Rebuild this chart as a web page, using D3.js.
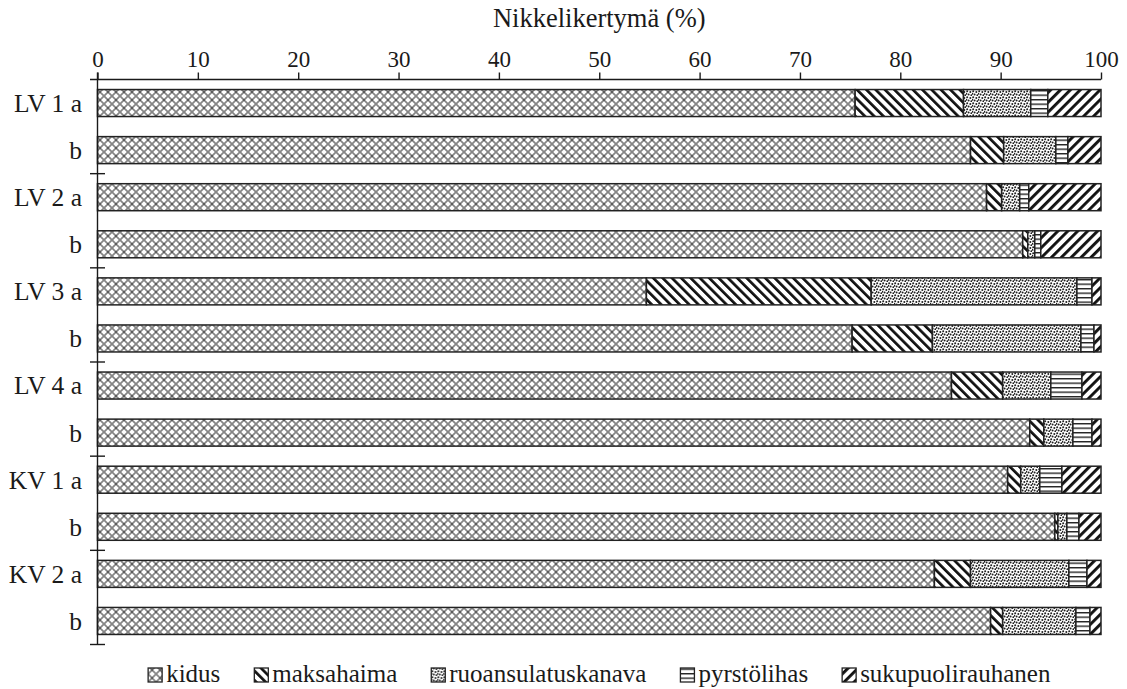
<!DOCTYPE html>
<html>
<head>
<meta charset="utf-8">
<script src="https://cdn.jsdelivr.net/npm/d3@7"></script>
<style>
  html, body { margin: 0; padding: 0; background: #fff; }
  svg { display: block; }
  svg text { font-family: "Liberation Serif", "Times New Roman", Times, serif; }
</style>
</head>
<body>
<svg id="chart" width="1127" height="689"></svg>
<script>
// Sites (groups) and replicate fish within each site
const groups = ["LV 1", "LV 2", "LV 3", "LV 4", "KV 1", "KV 2"];
const replicates = ["a", "b"];

// Tissues, in stacking order
const tissues = ["kidus", "maksahaima", "ruoansulatuskanava", "pyrstölihas", "sukupuolirauhanen"];

// Share of accumulated nickel (%) per tissue, one entry per bar (LV 1 a, LV 1 b, LV 2 a, ...)
const kidus              = [75.5, 87.0, 88.6, 92.2, 54.7, 75.2, 85.1, 92.9, 90.7, 95.4, 83.4, 89.0];
const maksahaima         = [10.8,  3.3,  1.5,  0.5, 22.4,  8.0,  5.1,  1.4,  1.3,  0.3,  3.6,  1.2];
const ruoansulatuskanava = [ 6.7,  5.2,  1.8,  0.7, 20.5, 14.8,  4.8,  2.9,  1.9,  0.9,  9.8,  7.3];
const pyrstolihas        = [ 1.7,  1.2,  0.9,  0.6,  1.5,  1.3,  3.1,  1.9,  2.2,  1.2,  1.8,  1.4];
const sukupuolirauhanen  = [ 5.3,  3.3,  7.2,  6.0,  0.9,  0.7,  1.9,  0.9,  3.9,  2.2,  1.4,  1.1];

const xTicks = [0, 10, 20, 30, 40, 50, 60, 70, 80, 90, 100];
const xTitle = "Nikkelikertymä (%)";

// Build rows for the stack
const seriesValues = [kidus, maksahaima, ruoansulatuskanava, pyrstolihas, sukupuolirauhanen];
const rows = [];
groups.forEach((g, gi) => {
  replicates.forEach((r, ri) => {
    const idx = gi * replicates.length + ri;
    const row = { id: g + " " + r, label: ri === 0 ? g + " " + r : r };
    tissues.forEach((t, ti) => { row[t] = seriesValues[ti][idx]; });
    rows.push(row);
  });
});

const FONT = "Liberation Serif, Times New Roman, Times, serif";
const INK = "#1a1a1a";

const svg = d3.select("#chart");
const plotLeft = 97.5, plotRight = 1101, plotTop = 79.5, plotBottom = 644.5;

const x = d3.scaleLinear().domain([0, 100]).range([plotLeft, plotRight]);
const y = d3.scaleBand().domain(rows.map(d => d.id)).range([plotTop, plotBottom])
  .paddingInner(0.4265).paddingOuter(0.2133);

// ---- Fill patterns ----
const defs = svg.append("defs");

// kidus: grey diagonal lattice
const pK = defs.append("pattern").attr("id", "p-kidus").attr("patternUnits", "userSpaceOnUse")
  .attr("width", 8).attr("height", 8);
pK.append("rect").attr("width", 8).attr("height", 8).attr("fill", "#fff");
pK.append("path").attr("d", "M0,0L8,8M8,0L0,8").attr("stroke", "#868686").attr("stroke-width", 1.8);
pK.append("circle").attr("cx", 4).attr("cy", 4).attr("r", 0.9).attr("fill", "#4a4a4a");

// maksahaima: back diagonal stripes
const pM = defs.append("pattern").attr("id", "p-maksa").attr("patternUnits", "userSpaceOnUse")
  .attr("width", 6.6).attr("height", 10).attr("patternTransform", "rotate(-45)");
pM.append("rect").attr("width", 6.6).attr("height", 10).attr("fill", "#fff");
pM.append("rect").attr("width", 2.7).attr("height", 10).attr("fill", "#111");

// ruoansulatuskanava: dense speckle
const pR = defs.append("pattern").attr("id", "p-ruoan").attr("patternUnits", "userSpaceOnUse")
  .attr("width", 6).attr("height", 6);
pR.append("rect").attr("width", 6).attr("height", 6).attr("fill", "#fff");
[[1.2, 1.3], [4.3, 2.0], [2.6, 4.4], [5.4, 5.2], [0.3, 3.8]].forEach(([cx, cy]) =>
  pR.append("circle").attr("cx", cx).attr("cy", cy).attr("r", 1.0).attr("fill", "#222"));

// pyrstölihas: horizontal lines
const pP = defs.append("pattern").attr("id", "p-pyrsto").attr("patternUnits", "userSpaceOnUse")
  .attr("width", 6).attr("height", 4.5);
pP.append("rect").attr("width", 6).attr("height", 4.5).attr("fill", "#fff");
pP.append("rect").attr("y", 0).attr("width", 6).attr("height", 1.4).attr("fill", "#222");

// sukupuolirauhanen: forward diagonal stripes
const pS = defs.append("pattern").attr("id", "p-suku").attr("patternUnits", "userSpaceOnUse")
  .attr("width", 7).attr("height", 10).attr("patternTransform", "rotate(45)");
pS.append("rect").attr("width", 7).attr("height", 10).attr("fill", "#fff");
pS.append("rect").attr("width", 2.9).attr("height", 10).attr("fill", "#111");

const fillFor = {
  "kidus": "url(#p-kidus)",
  "maksahaima": "url(#p-maksa)",
  "ruoansulatuskanava": "url(#p-ruoan)",
  "pyrstölihas": "url(#p-pyrsto)",
  "sukupuolirauhanen": "url(#p-suku)"
};

// ---- Stacked bars ----
const stack = d3.stack().keys(tissues)(rows);
svg.append("g").selectAll("g").data(stack).join("g")
  .attr("fill", d => fillFor[d.key])
  .selectAll("rect").data(d => d).join("rect")
  .attr("x", d => x(d[0]))
  .attr("y", d => y(d.data.id))
  .attr("width", d => x(d[1]) - x(d[0]))
  .attr("height", y.bandwidth())
  .attr("stroke", "#222").attr("stroke-width", 1.5);

// ---- Top axis ----
const xAxis = d3.axisTop(x).tickValues(xTicks).tickSize(7).tickSizeOuter(0).tickPadding(6);
const gx = svg.append("g").attr("transform", `translate(0,${plotTop})`).call(xAxis)
  .attr("font-family", FONT);
gx.select(".domain").remove();
gx.selectAll(".tick line").attr("stroke", INK).attr("stroke-width", 1.4);
gx.selectAll(".tick text").attr("font-size", 23).attr("fill", INK).attr("font-family", FONT);
svg.append("line").attr("x1", 90).attr("x2", plotRight).attr("y1", plotTop).attr("y2", plotTop)
  .attr("stroke", INK).attr("stroke-width", 1.4);

// Axis title
svg.append("text").attr("x", (plotLeft + plotRight) / 2).attr("y", 27)
  .attr("text-anchor", "middle").attr("font-family", FONT).attr("font-size", 26.5)
  .attr("fill", INK).text(xTitle);

// ---- Left axis with group separators ----
svg.append("line").attr("x1", plotLeft).attr("x2", plotLeft).attr("y1", plotTop - 7).attr("y2", plotBottom)
  .attr("stroke", INK).attr("stroke-width", 1.4);
const half = (y.step() - y.bandwidth()) / 2;
const boundaries = groups.map((g, gi) => y(rows[gi * replicates.length].id) - half).slice(1)
  .concat([y(rows[rows.length - 1].id) + y.bandwidth() + half]);
svg.append("g").selectAll("line").data(boundaries).join("line")
  .attr("x1", 90).attr("x2", 105).attr("y1", d => d).attr("y2", d => d)
  .attr("stroke", INK).attr("stroke-width", 1.4);

svg.append("g").selectAll("text").data(rows).join("text")
  .attr("x", 82).attr("y", d => y(d.id) + y.bandwidth() / 2)
  .attr("dy", "0.35em").attr("text-anchor", "end")
  .attr("font-family", FONT).attr("font-size", 25.5).attr("fill", INK).text(d => d.label);

// ---- Legend ----
const legend = svg.append("g");
const boxSize = 14, boxGap = 4, itemGap = 34;
let cursor = 0;
tissues.forEach(t => {
  const g = legend.append("g");
  g.append("rect").attr("x", 0).attr("y", -14).attr("width", boxSize).attr("height", boxSize)
    .attr("fill", fillFor[t]).attr("stroke", "#222").attr("stroke-width", 1.3);
  const txt = g.append("text").attr("x", boxSize + boxGap).attr("y", 0)
    .attr("font-family", FONT).attr("font-size", 25).attr("fill", INK).text(t);
  const w = boxSize + boxGap + txt.node().getComputedTextLength();
  g.attr("transform", `translate(${cursor},0)`);
  cursor += w + itemGap;
});
const totalW = cursor - itemGap;
legend.attr("transform", `translate(${(plotLeft + plotRight) / 2 - totalW / 2},682)`);
</script>
</body>
</html>
